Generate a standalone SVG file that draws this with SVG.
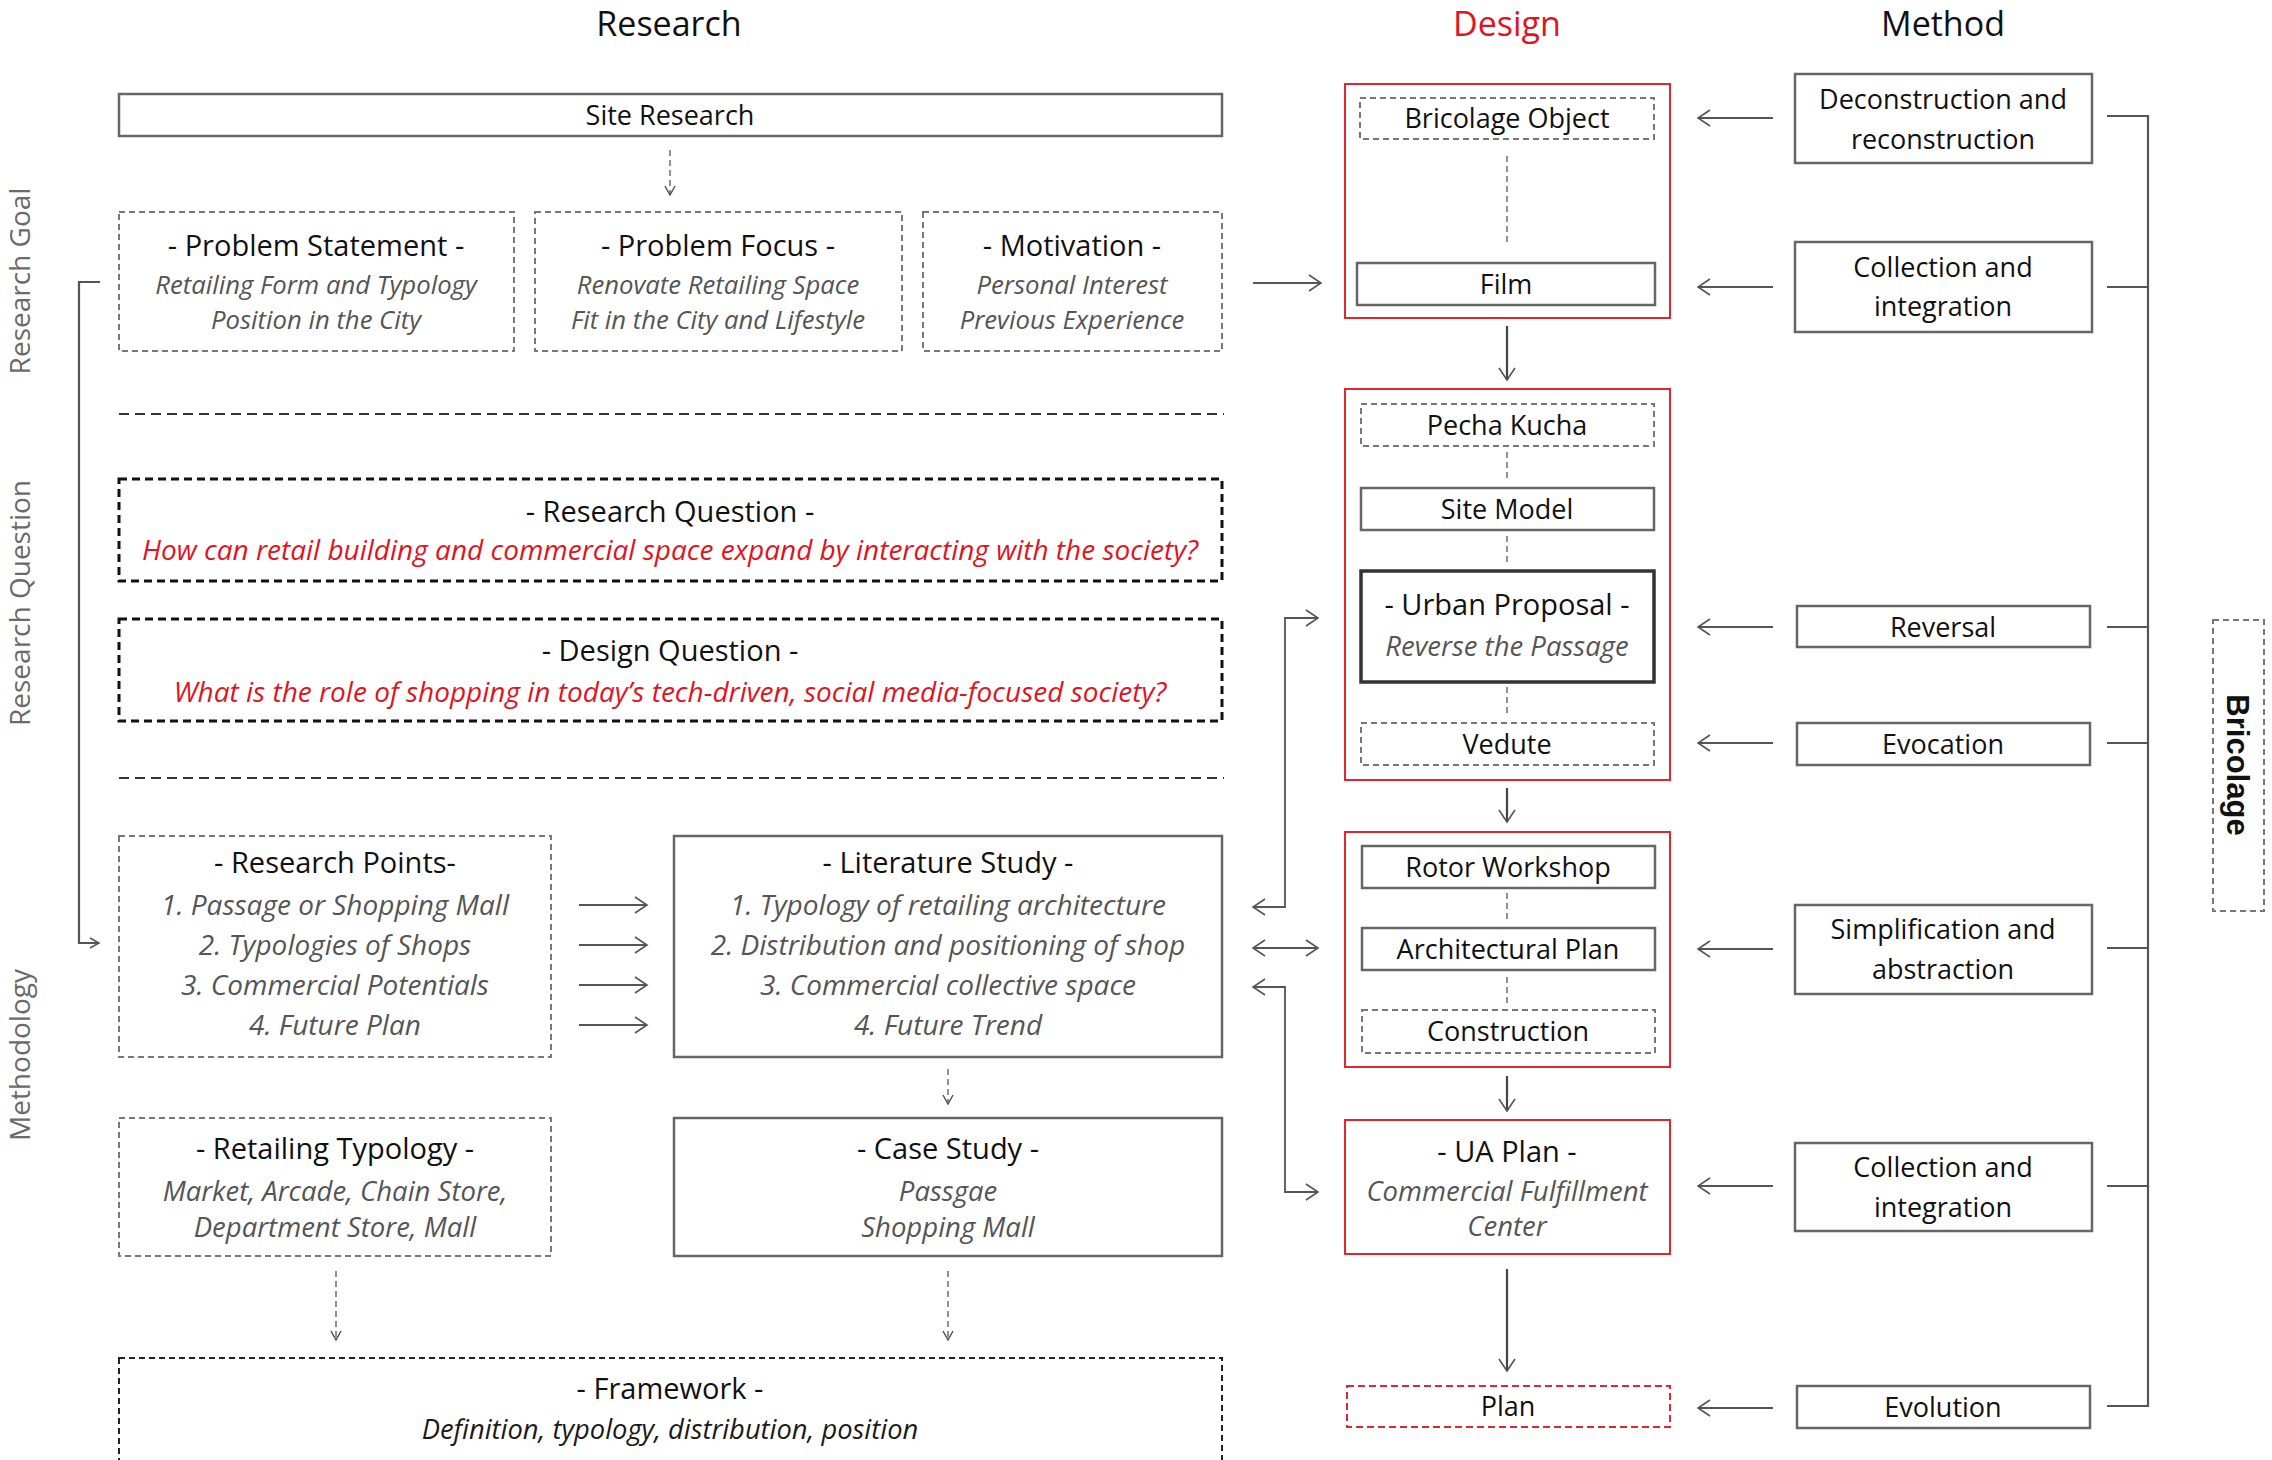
<svg xmlns="http://www.w3.org/2000/svg" width="2272" height="1460" viewBox="0 0 2272 1460">
<style>
text{font-family:"Open Sans","Noto Sans","Liberation Sans",sans-serif;text-anchor:middle;fill:#111}
.h{font-size:34px}
.hr{font-size:34px;fill:#e0141e}
.t{font-size:27px}
.ti{font-size:29px}
.it{font-size:25.7px;font-style:italic;fill:#555}
.it2{font-size:28px;font-style:italic;fill:#555}
.it3{font-size:27.5px;font-style:italic;fill:#555}
.rq{font-size:28px;font-style:italic;fill:#e0141e}
.fw{font-size:27.3px;font-style:italic;fill:#1a1a1a}
.side{font-size:28px;fill:#6a6a6a}
.bri{font-family:"Liberation Sans",Arial,sans-serif;font-size:31px;font-weight:bold;fill:#111}
.solid{fill:#fff;stroke:#666;stroke-width:2.5}
.dash{fill:#fff;stroke:#777;stroke-width:2;stroke-dasharray:6 4}
.qbox{fill:#fff;stroke:#111;stroke-width:3;stroke-dasharray:8 5}
.fbox{fill:#fff;stroke:#222;stroke-width:2;stroke-dasharray:6 4}
.red{fill:none;stroke:#e0262e;stroke-width:2}
.reddash{fill:#fff;stroke:#e0262e;stroke-width:2;stroke-dasharray:7 4}
.sep{stroke:#333;stroke-width:2;stroke-dasharray:10 6;fill:none}
.ln{stroke:#555;stroke-width:1.8;fill:none}
.lnd{stroke:#444;stroke-width:2.2;fill:none}
.dl{stroke:#777;stroke-width:1.6;stroke-dasharray:6 4;fill:none}
.br{stroke:#555;stroke-width:2.2;fill:none}
</style>
<defs>
<marker id="ah" markerUnits="userSpaceOnUse" markerWidth="16" markerHeight="20" refX="13" refY="9" orient="auto-start-reverse">
<path d="M1,1 L13,9 L1,17" fill="none" stroke="#555" stroke-width="1.6"/>
</marker>
<marker id="ahs" markerUnits="userSpaceOnUse" markerWidth="12" markerHeight="14" refX="10" refY="6" orient="auto-start-reverse">
<path d="M1,1 L10,6 L1,11" fill="none" stroke="#555" stroke-width="1.5"/>
</marker>
</defs>

<g id="headers">
<text class="h" x="669" y="36">Research</text>
<text class="hr" x="1507" y="36">Design</text>
<text class="h" x="1943" y="36">Method</text>
</g>

<g id="side-labels">
<text class="side" transform="translate(30,281) rotate(-90)" x="0" y="0">Research Goal</text>
<text class="side" transform="translate(30,603) rotate(-90)" x="0" y="0">Research Question</text>
<text class="side" transform="translate(30,1055) rotate(-90)" x="0" y="0">Methodology</text>
</g>

<g id="separators">
<line class="sep" x1="119" y1="414" x2="1224" y2="414"/>
<line class="sep" x1="119" y1="778" x2="1224" y2="778"/>
</g>

<g id="design-groups">
<rect id="design-group-1" class="red" x="1345" y="84" width="325" height="234"/>
<rect id="design-group-2" class="red" x="1345" y="389" width="325" height="391"/>
<rect id="design-group-3" class="red" x="1345" y="832" width="325" height="235"/>
</g>

<g id="connectors">
<line class="dl" x1="670" y1="150" x2="670" y2="195" marker-end="url(#ahs)"/>
<line class="ln" x1="1253" y1="283" x2="1321" y2="283" marker-end="url(#ah)"/>
<line class="ln" x1="579" y1="905" x2="647" y2="905" marker-end="url(#ah)"/>
<line class="ln" x1="579" y1="945" x2="647" y2="945" marker-end="url(#ah)"/>
<line class="ln" x1="579" y1="985" x2="647" y2="985" marker-end="url(#ah)"/>
<line class="ln" x1="579" y1="1025" x2="647" y2="1025" marker-end="url(#ah)"/>
<line class="dl" x1="948" y1="1069" x2="948" y2="1104" marker-end="url(#ahs)"/>
<line class="dl" x1="336" y1="1271" x2="336" y2="1340" marker-end="url(#ahs)"/>
<line class="dl" x1="948" y1="1271" x2="948" y2="1340" marker-end="url(#ahs)"/>
<path class="br" d="M100,282 H79 V943 H99" stroke-width="1.6" marker-end="url(#ahs)"/>
<path class="ln" d="M1253,907 H1285 V618 H1318" marker-start="url(#ah)" marker-end="url(#ah)"/>
<line class="ln" x1="1253" y1="948" x2="1318" y2="948" marker-start="url(#ah)" marker-end="url(#ah)"/>
<path class="ln" d="M1253,987 H1285 V1192 H1318" marker-start="url(#ah)" marker-end="url(#ah)"/>
<line class="dl" x1="1507" y1="156" x2="1507" y2="242"/>
<line class="dl" x1="1507" y1="452" x2="1507" y2="482"/>
<line class="dl" x1="1507" y1="536" x2="1507" y2="566"/>
<line class="dl" x1="1507" y1="687" x2="1507" y2="717"/>
<line class="dl" x1="1507" y1="893" x2="1507" y2="923"/>
<line class="dl" x1="1507" y1="977" x2="1507" y2="1005"/>
<line class="lnd" x1="1507" y1="326" x2="1507" y2="380" marker-end="url(#ah)"/>
<line class="lnd" x1="1507" y1="788" x2="1507" y2="822" marker-end="url(#ah)"/>
<line class="lnd" x1="1507" y1="1076" x2="1507" y2="1111" marker-end="url(#ah)"/>
<line class="lnd" x1="1507" y1="1269" x2="1507" y2="1371" marker-end="url(#ah)"/>
<line class="ln" x1="1773" y1="118" x2="1698" y2="118" marker-end="url(#ah)"/>
<line class="ln" x1="1773" y1="287" x2="1698" y2="287" marker-end="url(#ah)"/>
<line class="ln" x1="1773" y1="627" x2="1698" y2="627" marker-end="url(#ah)"/>
<line class="ln" x1="1773" y1="743" x2="1698" y2="743" marker-end="url(#ah)"/>
<line class="ln" x1="1773" y1="949" x2="1698" y2="949" marker-end="url(#ah)"/>
<line class="ln" x1="1773" y1="1186" x2="1698" y2="1186" marker-end="url(#ah)"/>
<line class="ln" x1="1773" y1="1408" x2="1698" y2="1408" marker-end="url(#ah)"/>
<path class="br" d="M2107,116 H2148 V1406 H2107 M2107,287 H2148 M2107,627 H2148 M2107,743 H2148 M2107,948 H2148 M2107,1186 H2148"/>
</g>

<g id="site-research">
<rect class="solid" x="119" y="94" width="1103" height="42"/>
<text class="t" x="670" y="125">Site Research</text>
</g>

<g id="problem-statement">
<rect class="dash" x="119" y="212" width="395" height="139"/>
<text class="ti" x="316" y="256">- Problem Statement -</text>
<text class="it" x="316" y="294">Retailing Form and Typology</text>
<text class="it" x="316" y="329">Position in the City</text>
</g>
<g id="problem-focus">
<rect class="dash" x="535" y="212" width="367" height="139"/>
<text class="ti" x="718" y="256">- Problem Focus -</text>
<text class="it" x="718" y="294">Renovate Retailing Space</text>
<text class="it" x="718" y="329">Fit in the City and Lifestyle</text>
</g>
<g id="motivation">
<rect class="dash" x="923" y="212" width="299" height="139"/>
<text class="ti" x="1072" y="256">- Motivation -</text>
<text class="it" x="1072" y="294">Personal Interest</text>
<text class="it" x="1072" y="329">Previous Experience</text>
</g>

<g id="research-question">
<rect class="qbox" x="119" y="479" width="1103" height="102"/>
<text class="ti" x="670" y="522">- Research Question -</text>
<text class="rq" x="670" y="560">How can retail building and commercial space expand by interacting with the society?</text>
</g>
<g id="design-question">
<rect class="qbox" x="119" y="619" width="1103" height="102"/>
<text class="ti" x="670" y="661">- Design Question -</text>
<text class="rq" x="670" y="702">What is the role of shopping in today’s tech-driven, social media-focused society?</text>
</g>

<g id="research-points">
<rect class="dash" x="119" y="836" width="432" height="221"/>
<text class="ti" x="335" y="873">- Research Points-</text>
<text class="it2" x="335" y="915">1. Passage or Shopping Mall</text>
<text class="it2" x="335" y="955">2. Typologies of Shops</text>
<text class="it2" x="335" y="995">3. Commercial Potentials</text>
<text class="it2" x="335" y="1035">4. Future Plan</text>
</g>
<g id="literature-study">
<rect class="solid" x="674" y="836" width="548" height="221"/>
<text class="ti" x="948" y="873">- Literature Study -</text>
<text class="it2" x="948" y="915">1. Typology of retailing architecture</text>
<text class="it2" x="948" y="955">2. Distribution and positioning of shop</text>
<text class="it2" x="948" y="995">3. Commercial collective space</text>
<text class="it2" x="948" y="1035">4. Future Trend</text>
</g>
<g id="retailing-typology">
<rect class="dash" x="119" y="1118" width="432" height="138"/>
<text class="ti" x="335" y="1159">- Retailing Typology  -</text>
<text class="it3" x="335" y="1201">Market, Arcade, Chain Store,</text>
<text class="it3" x="335" y="1237">Department Store, Mall</text>
</g>
<g id="case-study">
<rect class="solid" x="674" y="1118" width="548" height="138"/>
<text class="ti" x="948" y="1159">- Case Study -</text>
<text class="it3" x="948" y="1201">Passgae</text>
<text class="it3" x="948" y="1237">Shopping Mall</text>
</g>
<g id="framework">
<rect class="fbox" x="119" y="1358" width="1103" height="110"/>
<text class="ti" x="670" y="1399">- Framework -</text>
<text class="fw" x="670" y="1439">Definition, typology, distribution, position</text>
</g>

<g id="bricolage-object">
<rect class="dash" x="1360" y="98" width="294" height="41"/>
<text class="t" x="1507" y="128">Bricolage Object</text>
</g>
<g id="film">
<rect class="solid" x="1357" y="263" width="298" height="42"/>
<text class="t" x="1506" y="294">Film</text>
</g>

<g id="pecha-kucha">
<rect class="dash" x="1361" y="404" width="293" height="42"/>
<text class="t" x="1507" y="435">Pecha Kucha</text>
</g>
<g id="site-model">
<rect class="solid" x="1361" y="488" width="293" height="42"/>
<text class="t" x="1507" y="519">Site Model</text>
</g>
<g id="urban-proposal">
<rect x="1361" y="571" width="293" height="111" fill="#fff" stroke="#333" stroke-width="3.5"/>
<text class="ti" x="1507" y="615">- Urban Proposal -</text>
<text class="it3" x="1507" y="656">Reverse the Passage</text>
</g>
<g id="vedute">
<rect class="dash" x="1361" y="723" width="293" height="42"/>
<text class="t" x="1507" y="754">Vedute</text>
</g>

<g id="rotor-workshop">
<rect class="solid" x="1362" y="846" width="293" height="42"/>
<text class="t" x="1508" y="877">Rotor Workshop</text>
</g>
<g id="architectural-plan">
<rect class="solid" x="1362" y="928" width="293" height="42"/>
<text class="t" x="1508" y="959">Architectural Plan</text>
</g>
<g id="construction">
<rect class="dash" x="1362" y="1010" width="293" height="43"/>
<text class="t" x="1508" y="1041">Construction</text>
</g>

<g id="ua-plan">
<rect class="red" x="1345" y="1120" width="325" height="134"/>
<text class="ti" x="1507" y="1162">- UA Plan -</text>
<text class="it3" x="1507" y="1201">Commercial Fulfillment</text>
<text class="it3" x="1507" y="1236">Center</text>
</g>
<g id="plan">
<rect class="reddash" x="1347" y="1386" width="323" height="41"/>
<text class="t" x="1508" y="1416">Plan</text>
</g>

<g id="deconstruction">
<rect class="solid" x="1795" y="74" width="297" height="89"/>
<text class="t" x="1943" y="109">Deconstruction and</text>
<text class="t" x="1943" y="149">reconstruction</text>
</g>
<g id="collection-1">
<rect class="solid" x="1795" y="242" width="297" height="90"/>
<text class="t" x="1943" y="277">Collection and</text>
<text class="t" x="1943" y="316">integration</text>
</g>
<g id="reversal">
<rect class="solid" x="1797" y="606" width="293" height="41"/>
<text class="t" x="1943" y="637">Reversal</text>
</g>
<g id="evocation">
<rect class="solid" x="1797" y="723" width="293" height="42"/>
<text class="t" x="1943" y="754">Evocation</text>
</g>
<g id="simplification">
<rect class="solid" x="1795" y="905" width="297" height="89"/>
<text class="t" x="1943" y="939">Simplification and</text>
<text class="t" x="1943" y="979">abstraction</text>
</g>
<g id="collection-2">
<rect class="solid" x="1795" y="1143" width="297" height="88"/>
<text class="t" x="1943" y="1177">Collection and</text>
<text class="t" x="1943" y="1217">integration</text>
</g>
<g id="evolution">
<rect class="solid" x="1797" y="1386" width="293" height="42"/>
<text class="t" x="1943" y="1417">Evolution</text>
</g>

<g id="bricolage">
<rect x="2213" y="620" width="51" height="291" fill="#fff" stroke="#777" stroke-width="2" stroke-dasharray="6 4"/>
<text class="bri" transform="translate(2227,765) rotate(90)" x="0" y="0">Bricolage</text>
</g>
</svg>
